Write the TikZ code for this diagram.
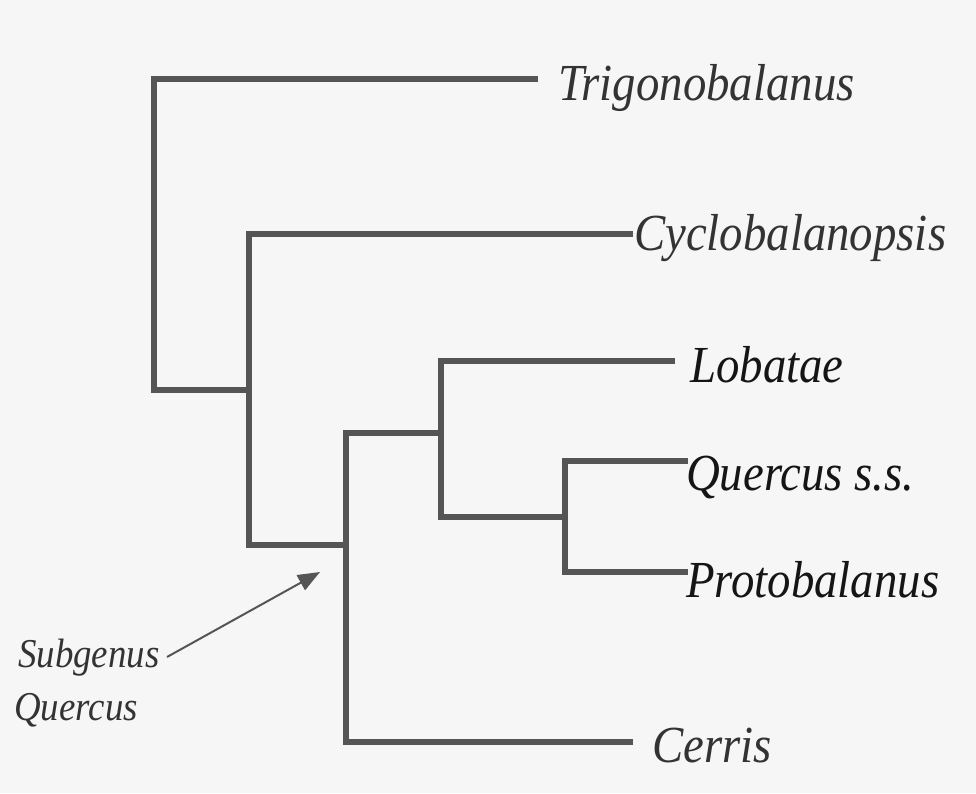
\documentclass[tikz,border=0pt]{standalone}
\usepackage{fontspec}
\usetikzlibrary{arrows.meta}
\newfontfamily\taxonfont{Liberation Serif}
\definecolor{paper}{HTML}{F6F6F6}
\definecolor{branch}{HTML}{555555}
\definecolor{ink}{HTML}{333333}
\definecolor{darkink}{HTML}{151515}
\begin{document}
\begin{tikzpicture}[x=1pt,y=-1pt,
  branchline/.style={draw=branch,line width=6pt,line join=miter,line cap=butt},
  leaf/.style={anchor=base west,inner sep=0pt,text=ink,
    font=\taxonfont\fontsize{52}{60}\selectfont\itshape,xscale=0.9,transform shape},
  darkleaf/.style={leaf,text=darkink},
  note/.style={anchor=base west,inner sep=0pt,text=ink,
    font=\taxonfont\fontsize{41}{48}\selectfont\itshape,xscale=0.9,transform shape},
  pointer/.style={draw=branch,line width=2pt,
    -{Triangle[length=22pt,width=17pt]}}]
% page and background
\fill[paper] (0,0) rectangle (976,793);
\useasboundingbox (0,0) rectangle (976,793);

% branch tips (where the horizontal branches end)
\coordinate (tTrig) at (538,79);
\coordinate (tCyc)  at (633,234);
\coordinate (tLob)  at (675,361);
\coordinate (tQue)  at (688,461);
\coordinate (tPro)  at (688,572);
\coordinate (tCer)  at (633,742);

% internal nodes of the tree
\coordinate (r1) at (154,390);
\coordinate (n2) at (249,390);
\coordinate (n3) at (346,545);
\coordinate (n4) at (441,433);
\coordinate (n5) at (565,517);

% taxon labels
\node[leaf]     (trig) at (558,100) {Trigonobalanus};
\node[leaf]     (cyc)  at (634,250) {Cyclobalanopsis};
\node[darkleaf] (lob)  at (690,382) {Lobatae};
\node[darkleaf] (que)  at (686,490) {Quercus s.s.};
\node[darkleaf] (pro)  at (686,597) {Protobalanus};
\node[leaf]     (cer)  at (652,762) {Cerris};

% branches
\draw[branchline] (tTrig) -| (r1) -- (n2);
\draw[branchline] (tCyc) -| (n2) |- (n3);
\draw[branchline] (n4) -| (n3) |- (tCer);
\draw[branchline] (tLob) -| (n4) |- (n5);
\draw[branchline] (tQue) -| (n5) |- (tPro);

% subgenus annotation
\node[note] (subg) at (18,667) {Subgenus};
\node[note] (quer) at (14,720) {Quercus};
\coordinate (tail) at (167,657);
\coordinate (head) at (320,572);
\draw[pointer] (tail) -- (head);
\end{tikzpicture}
\end{document}
